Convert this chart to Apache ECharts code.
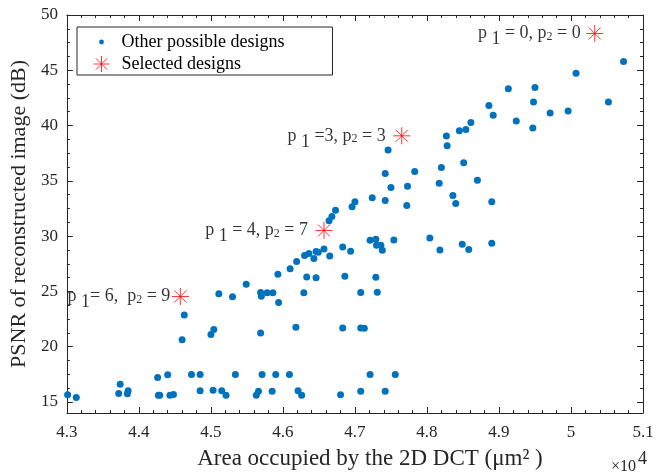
<!DOCTYPE html>
<html>
<head>
<meta charset="utf-8">
<script src="https://cdn.jsdelivr.net/npm/echarts@6/dist/echarts.min.js"></script>
<style>
  html, body { margin: 0; padding: 0; background: #fff; }
  #main { width: 665px; height: 475px; }
</style>
</head>
<body>
<div id="main"></div>
<script>
// area in units of 1e4 um^2, psnr in dB
var otherArea = [5.073, 5.007, 4.913, 4.950, 4.948, 5.052, 4.886, 4.892, 4.971, 4.996,
  4.924, 4.947, 4.861, 4.854, 4.845, 4.827, 4.828, 4.746, 4.851, 4.820,
  4.783, 4.742, 4.870, 4.817, 4.773, 4.750, 4.724, 4.742, 4.772, 4.836,
  4.840, 4.890, 4.700, 4.696, 4.673, 4.668, 4.664, 4.721, 4.729, 4.730,
  4.736, 4.738, 4.754, 4.804, 4.818, 4.849, 4.858, 4.890, 4.729, 4.731,
  4.708, 4.708, 4.713, 4.721, 4.756, 4.708, 4.742, 4.301, 4.313, 4.372,
  4.374, 4.384, 4.385, 4.426, 4.427, 4.429, 4.440, 4.443, 4.448, 4.460,
  4.463, 4.473, 4.485, 4.485, 4.500, 4.504, 4.503, 4.511, 4.515, 4.521,
  4.530, 4.534, 4.549, 4.563, 4.566, 4.569, 4.570, 4.569, 4.571, 4.578,
  4.586, 4.594, 4.585, 4.590, 4.593, 4.610, 4.619, 4.618, 4.609, 4.621,
  4.626, 4.630, 4.636, 4.629, 4.633, 4.643, 4.646, 4.649, 4.646, 4.657,
  4.665, 4.680, 4.683, 4.686, 4.683, 4.694];
var otherPsnr = [45.79, 44.72, 43.32, 43.44, 42.12, 42.12, 41.82, 40.93, 41.13, 41.31,
  40.42, 39.79, 40.27, 39.65, 39.52, 39.05, 38.18, 37.79, 36.63, 36.21,
  35.85, 35.67, 35.05, 34.78, 34.51, 34.39, 33.47, 33.23, 32.78, 33.68,
  32.96, 33.11, 33.11, 32.66, 32.33, 31.77, 31.40, 29.62, 29.71, 29.17,
  29.17, 28.72, 29.65, 29.82, 28.75, 29.26, 28.78, 29.35, 26.27, 24.93,
  24.90, 21.68, 21.66, 17.49, 17.49, 15.97, 15.97, 15.65, 15.41, 15.76,
  16.60, 15.74, 16.01, 17.20, 15.61, 15.61, 17.47, 15.61, 15.67, 20.63,
  22.87, 17.49, 17.49, 16.01, 21.11, 21.56, 16.06, 24.78, 16.01, 15.61,
  24.51, 17.49, 25.64, 15.61, 15.97, 24.90, 24.57, 21.23, 17.49, 24.87,
  24.87, 24.00, 15.97, 17.49, 26.54, 27.05, 27.70, 21.76, 17.49, 16.01,
  15.61, 28.24, 28.42, 24.87, 26.30, 27.97, 28.60, 28.54, 26.24, 28.84,
  28.21, 15.65, 29.02, 26.36, 21.68, 28.63];

var selArea = [5.033, 4.765, 4.657, 4.4575];
var selPsnr = [48.33, 39.07, 30.51, 24.54];
var selNames = [
  '{m|p }{s|1}{m| = 0, p}{t|2}{m| = 0}',
  '{m|p }{s|1}{m| =3, p}{t|2}{m| = 3}',
  '{m|p }{s|1}{m| = 4, p}{t|2}{m| = 7}',
  '{m|p }{s|1}{m|= 6,  p}{t|2}{m| = 9}'
];

var xTicks = [4.3, 4.4, 4.5, 4.6, 4.7, 4.8, 4.9, 5, 5.1];
var yTicks = [15, 20, 25, 30, 35, 40, 45, 50];

var font = "'Liberation Serif', 'Times New Roman', serif";
var axisColor = '#262626';
var labelGap = [5, 7, 7, 1];
var starPath = 'path://M0,-1L0,1M-1,0L1,0M-0.7071,-0.7071L0.7071,0.7071M-0.7071,0.7071L0.7071,-0.7071';
var dotIcon = 'path://M-10,-10M10,10M-3,0A3,3,0,1,0,3,0A3,3,0,1,0,-3,0Z';

function minorOf(ticks, n) {
  var out = [];
  for (var i = 1; i < ticks.length; i++) {
    var a = ticks[i - 1], b = ticks[i];
    for (var k = 1; k < n; k++) out.push(+(a + (b - a) * k / n).toFixed(4));
  }
  return out;
}

function axis(pos, min, max, ticks, len, showLabel, showLine) {
  return {
    type: 'value', position: pos, min: min, max: max,
    axisLine: { show: showLine, onZero: false, lineStyle: { color: axisColor, width: 1 } },
    axisTick: { show: true, inside: true, length: len, customValues: ticks,
      lineStyle: { color: axisColor, width: 1 } },
    axisLabel: { show: showLabel, customValues: ticks, margin: pos === 'left' ? 9 : 11,
      fontFamily: font, fontSize: 17, color: axisColor },
    splitLine: { show: false }
  };
}

var xMin = minorOf(xTicks, 5), yMin = minorOf(yTicks, 4);

var xBottom = axis('bottom', 4.3, 5.1, xTicks, 6, true, true);
xBottom.name = 'Area occupied by the 2D DCT (\u03bcm\u00b2 )';
xBottom.nameLocation = 'middle';
xBottom.nameGap = 34;
xBottom.nameTextStyle = { fontFamily: font, fontSize: 23, color: axisColor, padding: [0, 0, 0, 30] };

var yLeft = axis('left', 14, 50, yTicks, 6, true, true);
yLeft.name = 'PSNR of reconstructed image (dB)';
yLeft.nameLocation = 'middle';
yLeft.nameGap = 30;
yLeft.nameTextStyle = { fontFamily: font, fontSize: 22, color: axisColor };

var others = otherArea.map(function (x, i) { return [x, otherPsnr[i]]; });
var selected = selArea.map(function (x, i) {
  return { value: [x, selPsnr[i]], label: { distance: labelGap[i] } };
});

var chart = echarts.init(document.getElementById('main'));
chart.setOption({
  animation: false,
  grid: { left: 65, right: 22, top: 15, bottom: 58 },
  xAxis: [
    xBottom,
    axis('bottom', 4.3, 5.1, xMin, 3, false, false),
    axis('top', 4.3, 5.1, xTicks, 6, false, true),
    axis('top', 4.3, 5.1, xMin, 3, false, false)
  ],
  yAxis: [
    yLeft,
    axis('left', 14, 50, yMin, 3, false, false),
    axis('right', 14, 50, yTicks, 6, false, true),
    axis('right', 14, 50, yMin, 3, false, false)
  ],
  legend: {
    orient: 'vertical', left: 77, top: 27,
    padding: [6, 48, 2, 16], itemGap: 4, itemWidth: 30, itemHeight: 16,
    borderColor: axisColor, borderWidth: 1, backgroundColor: '#fff',
    selectedMode: false,
    textStyle: { fontFamily: font, fontSize: 18, color: '#000' },
    data: [
      { name: 'Other possible designs', icon: dotIcon },
      { name: 'Selected designs',
        itemStyle: { color: 'transparent', borderColor: '#ff0000', borderWidth: 1 } }
    ]
  },
  graphic: [{
    type: 'text', x: 611, y: 467,
    style: {
      text: '{a|\u00d710}{b|4}',
      verticalAlign: 'middle',
      rich: {
        a: { fontFamily: font, fontSize: 16, fill: axisColor },
        b: { fontFamily: font, fontSize: 18, fill: axisColor, padding: [0, 0, 16, 2] }
      }
    }
  }],
  series: [
    {
      name: 'Other possible designs', type: 'scatter',
      symbol: 'circle', symbolSize: 7,
      itemStyle: { color: '#0072BD', opacity: 1 },
      emphasis: { disabled: true },
      data: others
    },
    {
      name: 'Selected designs', type: 'scatter',
      symbol: starPath, symbolSize: 17,
      itemStyle: { color: 'transparent', borderColor: '#ff0000', borderWidth: 1 },
      emphasis: { disabled: true },
      label: {
        show: true, position: 'left', color: '#000',
        formatter: function (p) { return selNames[p.dataIndex]; },
        rich: {
          m: { fontFamily: font, fontSize: 18, color: '#000' },
          s: { fontFamily: font, fontSize: 18, color: '#000', padding: [12, 0, 0, 0] },
          t: { fontFamily: font, fontSize: 12, color: '#000', padding: [6, 0, 0, 0] }
        }
      },
      data: selected
    }
  ]
});
</script>
</body>
</html>
